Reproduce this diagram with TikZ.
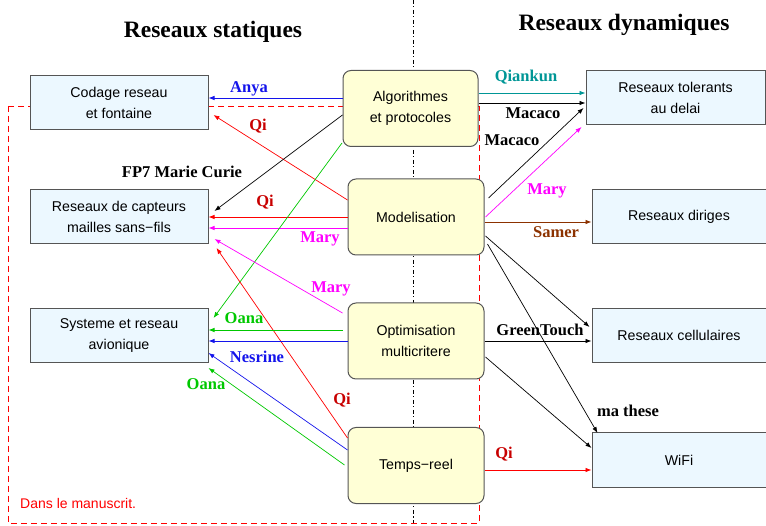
\documentclass[tikz,border=0pt]{standalone}
\usepackage{fontspec}
\setmainfont{Liberation Serif}
\setsansfont{Liberation Sans}
\usetikzlibrary{arrows.meta,calc}

\definecolor{boxline}{RGB}{85,85,85}
\definecolor{statfill}{RGB}{236,248,255}
\definecolor{midfill}{RGB}{255,255,214}
\definecolor{cblue}{RGB}{20,20,235}
\definecolor{cred}{RGB}{255,0,0}
\definecolor{cdarkred}{RGB}{200,0,0}
\definecolor{cmag}{RGB}{255,0,255}
\definecolor{cgreen}{RGB}{0,200,0}
\definecolor{cteal}{RGB}{0,150,150}
\definecolor{cbrown}{RGB}{140,50,0}

\begin{document}
\begin{tikzpicture}[x=1pt,y=-1pt,
  box/.style={draw=boxline, line width=1pt, fill=statfill,
    minimum width=178pt, minimum height=54pt, inner sep=0pt, align=center,
    font=\sffamily\fontsize{14.2}{21}\selectfont},
  midbox/.style={box, fill=midfill, rounded corners=8pt,
    minimum width=136pt, minimum height=76pt},
  lab/.style={font=\bfseries\fontsize{16.5}{18}\selectfont, inner sep=0pt, anchor=base},
  title/.style={font=\bfseries\fontsize{23.5}{26}\selectfont, inner sep=0pt},
  link/.style={-{Latex[length=6pt,width=4.5pt]}, line width=0.7pt},
]
\useasboundingbox (0,0) rectangle (766,526);

% separator between the two halves
\coordinate (septop) at (413,0);
\coordinate (sepbot) at (413,526);
\draw[line width=0.6pt, dash pattern=on 4pt off 2.5pt on 1pt off 2.5pt] (septop) -- (sepbot);

% frame of the parts covered by the manuscript
\coordinate (fr1) at (8,106);
\coordinate (fr2) at (479,523);
\draw[cred, line width=0.8pt, dash pattern=on 6pt off 4pt] (fr1) rectangle (fr2);
\node[cred, font=\sffamily\fontsize{14}{16}\selectfont, anchor=base west, inner sep=0pt]
  (manu) at (20,508) {Dans le manuscrit.};

% titles
\node[title] (tstat) at (213,32) {Reseaux statiques};
\node[title] (tdyn) at (624,25) {Reseaux dynamiques};

% static networks
\node[box] (codage) at (119,103) {Codage reseau\\et fontaine};
\node[box] (capteurs) at (119,216.5) {Reseaux de capteurs\\mailles sans−fils};
\node[box] (avion) at (119,335.5) {Systeme et reseau\\avionique};

% methods
\node[midbox, minimum width=135pt] (algo) at (410.5,108.5) {Algorithmes\\et protocoles};
\node[midbox] (model) at (416,217) {Modelisation};
\node[midbox] (optim) at (416,341) {Optimisation\\multicritere};
\node[midbox] (temps) at (416,465.5) {Temps−reel};

% dynamic networks
\node[box, minimum width=179pt] (dtn) at (675.5,98) {Reseaux tolerants\\au delai};
\node[box, minimum width=174pt] (dirig) at (679,216.5) {Reseaux diriges};
\node[box, minimum width=174pt] (cell) at (679,335.5) {Reseaux cellulaires};
\node[box, minimum width=174pt] (wifi) at (679,460) {WiFi};

% links towards static networks
\draw[link, cblue] (algo.west |- 0,98) -- (codage.east |- 0,98);
\node[lab, cblue] (lanya) at (249,93) {Anya};

\draw[link, cred] (model.west |- 0,200) -- ([xshift=5pt]codage.east |- 0,115);
\node[lab, cdarkred] (lqi1) at (258,131) {Qi};

\draw[link, black] (algo.west |- 0,115) -- ([xshift=6pt]capteurs.east |- 0,211);
\node[lab] (lfp7) at (182,178) {FP7 Marie Curie};

\draw[link, cred] (model.west |- 0,217) -- (capteurs.east |- 0,217);
\node[lab, cdarkred] (lqi2) at (265,207) {Qi};

\draw[link, cmag] (model.west |- 0,228) -- (capteurs.east |- 0,228);
\node[lab, cmag] (lmary1) at (320,243) {Mary};

\draw[link, cgreen] ([xshift=-0.5pt]algo.west |- 0,143) -- ([xshift=5pt]avion.east |- 0,318);

\draw[link, cmag] ([xshift=-5pt]optim.west |- 0,313) -- ([xshift=6pt]capteurs.east |- 0,239);
\node[lab, cmag] (lmary2) at (331,293) {Mary};

\draw[link, cred] (temps.west |- 0,438) -- ([xshift=8pt]capteurs.east |- 0,248);
\node[lab, cdarkred] (lqi3) at (342,405) {Qi};

\draw[link, cgreen] ([xshift=-5pt]optim.west |- 0,330) -- (avion.east |- 0,330);
\node[lab, cgreen] (loana1) at (244,324) {Oana};

\draw[link, cblue] (optim.west |- 0,341) -- (avion.east |- 0,341);

\draw[link, cblue] (temps.west |- 0,450) -- (avion.east |- 0,353);
\node[lab, cblue] (lnes) at (257,363) {Nesrine};

\draw[link, cgreen] ([xshift=-3pt]temps.west |- 0,465) -- (avion.east |- 0,368);
\node[lab, cgreen] (loana2) at (206,390) {Oana};

% links towards dynamic networks
\draw[link, cteal] (algo.east |- 0,93) -- (dtn.west |- 0,93);
\node[lab, cteal] (lqk) at (526,82) {Qiankun};

\draw[link, black] (algo.east |- 0,103) -- (dtn.west |- 0,103);
\node[lab] (lmac1) at (533,119) {Macaco};

\draw[link, black] ([xshift=4pt]model.east |- 0,198) -- ([xshift=-2pt]dtn.west |- 0,108);
\node[lab] (lmac2) at (512,146) {Macaco};

\draw[link, cmag] ([xshift=1pt]model.east |- 0,217) -- ([xshift=-4pt]dtn.west |- 0,127);
\node[lab, cmag] (lmary3) at (547,195) {Mary};

\draw[link, cbrown] (model.east |- 0,222) -- (dirig.west |- 0,222);
\node[lab, cbrown] (lsamer) at (556,238) {Samer};

\draw[link, black] ([xshift=1pt]model.east |- 0,236) -- ([xshift=-2pt]cell.west |- 0,327);
\draw[link, black] ([xshift=3pt]model.east |- 0,244) -- ([xshift=6pt]wifi.west |- 0,433);
\node[lab] (lthese) at (628,416.5) {ma these};

\draw[link, black] (optim.east |- 0,341) -- (cell.west |- 0,341);
\node[lab] (lgt) at (540,335.5) {GreenTouch};

\draw[link, black] ([xshift=1pt]optim.east |- 0,357) -- (wifi.west |- 0,448);

\draw[link, cred] (temps.east |- 0,470) -- (wifi.west |- 0,470);
\node[lab, cdarkred] (lqi4) at (504,459) {Qi};
\end{tikzpicture}
\end{document}
